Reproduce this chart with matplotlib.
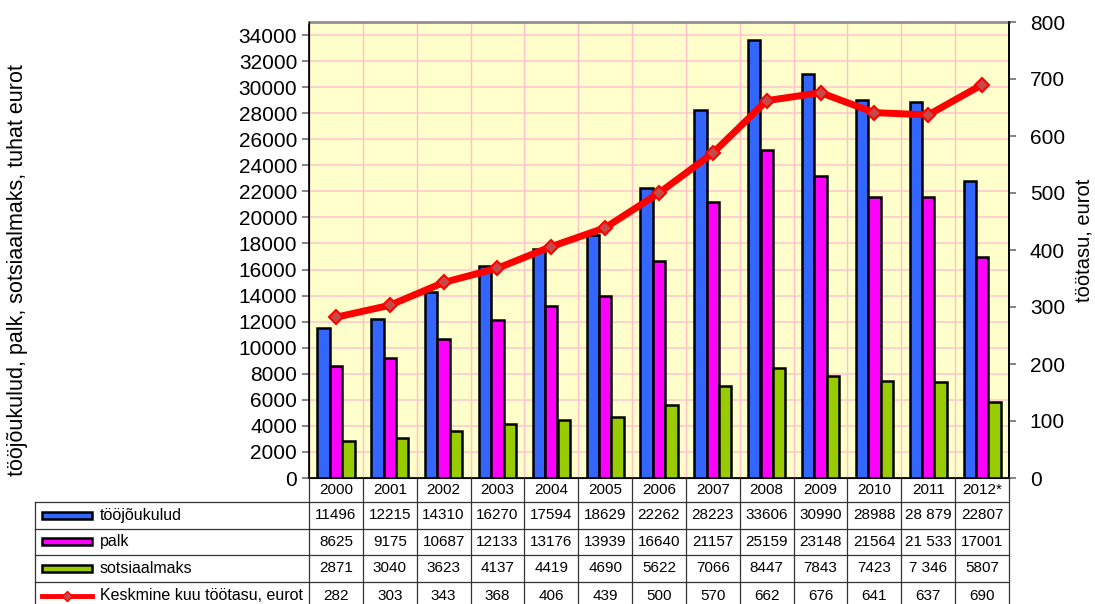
import numpy as np
import matplotlib
matplotlib.use("Agg")
from matplotlib import pyplot as plt
from matplotlib.patches import Rectangle

plt.rcParams['font.family'] = ['Liberation Sans', 'DejaVu Sans']

# data
years = ['2000', '2001', '2002', '2003', '2004', '2005', '2006', '2007',
         '2008', '2009', '2010', '2011', '2012*']
toojoukulud = [11496, 12215, 14310, 16270, 17594, 18629, 22262, 28223,
               33606, 30990, 28988, 28879, 22807]
palk = [8625, 9175, 10687, 12133, 13176, 13939, 16640, 21157,
        25159, 23148, 21564, 21533, 17001]
sotsiaalmaks = [2871, 3040, 3623, 4137, 4419, 4690, 5622, 7066,
                8447, 7843, 7423, 7346, 5807]
tootasu = [282, 303, 343, 368, 406, 439, 500, 570, 662, 676, 641, 637, 690]

# text shown in the table (some cells use a space as thousand separator)
toojoukulud_txt = ['11496', '12215', '14310', '16270', '17594', '18629', '22262',
                   '28223', '33606', '30990', '28988', '28 879', '22807']
palk_txt = ['8625', '9175', '10687', '12133', '13176', '13939', '16640',
            '21157', '25159', '23148', '21564', '21 533', '17001']
sots_txt = ['2871', '3040', '3623', '4137', '4419', '4690', '5622',
            '7066', '8447', '7843', '7423', '7 346', '5807']
tootasu_txt = [str(v) for v in tootasu]

names = ['tööjõukulud', 'palk', 'sotsiaalmaks', 'Keskmine kuu töötasu, eurot']
colors = ['#3366FF', '#FF00FF', '#99CC00']
line_color = '#FF0000'
marker_color = '#C84848'

W, H = 1095, 604
fig = plt.figure(figsize=(W / 100, H / 100), dpi=100)

# plot area in pixels
px_left, px_right, px_top, px_bottom = 309, 1009, 22, 478
ax = fig.add_axes([px_left / W, 1 - px_bottom / H,
                   (px_right - px_left) / W, (px_bottom - px_top) / H])
ax.set_facecolor('#FFFFCC')

n = len(years)
x = np.arange(n)
bw = 0.23
for i, (vals, c) in enumerate(zip([toojoukulud, palk, sotsiaalmaks], colors)):
    ax.bar(x + (i - 1) * bw, vals, bw, color=c, edgecolor='black',
           linewidth=1.8, zorder=3)

ax.set_xlim(-0.5, n - 0.5)
ax.set_ylim(0, 35000)
ax.set_yticks(np.arange(0, 34001, 2000))
ax.set_xticks([])
ax.set_xticks(np.arange(-0.5, n, 1), minor=True)
ax.tick_params(axis='x', which='minor', length=0)
ax.grid(True, axis='y', color='#FFC8D0', linewidth=1.2, zorder=0)
ax.grid(True, axis='x', which='minor', color='#FFC0CB', linewidth=1.0, zorder=0)
ax.tick_params(axis='y', labelsize=15, length=5, width=1.2, direction='out',
               color='#707070')
ax.spines['top'].set_color('#909090')
ax.spines['top'].set_linewidth(2)
for s in ['left', 'right', 'bottom']:
    ax.spines[s].set_linewidth(1.2)

ax2 = ax.twinx()
ax2.set_ylim(0, 800)
ax2.set_yticks(np.arange(0, 801, 100))
ax2.plot(x, tootasu, color=line_color, linewidth=5, marker='D',
         markersize=7.5, markerfacecolor=marker_color, markeredgecolor=line_color,
         markeredgewidth=1.5, zorder=5)
ax2.tick_params(axis='y', labelsize=15, length=5, width=1.2, direction='out',
                pad=10, color='#707070')
ax2.spines['top'].set_visible(False)
ax2.spines['right'].set_linewidth(1.2)

fig.text(18 / W, 1 - 270 / H, 'tööjõukulud, palk, sotsiaalmaks, tuhat eurot',
         rotation=90, ha='center', va='center', fontsize=15.5)
fig.text(1084 / W, 1 - 240 / H, 'töötasu, eurot',
         rotation=90, ha='center', va='center', fontsize=14.5)

# data table under the plot
tb_left = 35
unit = (px_right - px_left) / n
tax = fig.add_axes([tb_left / W, 0, (px_right - tb_left) / W, (H - px_bottom) / H])
x0 = -0.5 - (px_left - tb_left) / unit
tax.set_xlim(x0, n - 0.5)
tax.set_ylim(H - px_bottom, 0)
tax.axis('off')

row_edges = [0, 24, 50.5, 77, 104, 131]
lc = '#333333'
# horizontal lines
for y in row_edges[1:]:
    tax.plot([x0, n - 0.5], [y, y], color=lc, linewidth=0.9, clip_on=False)
# vertical lines
for b in np.arange(-0.5, n, 1):
    tax.plot([b, b], [0, row_edges[-1]], color=lc, linewidth=0.9, clip_on=False)
tax.plot([x0, x0], [row_edges[1], row_edges[-1]], color=lc, linewidth=0.9, clip_on=False)

rows = [toojoukulud_txt, palk_txt, sots_txt, tootasu_txt]
for j, yr in enumerate(years):
    tax.text(j, (row_edges[0] + row_edges[1]) / 2, yr, ha='center', va='center', fontsize=11)
for r, cells in enumerate(rows):
    yc = (row_edges[r + 1] + row_edges[r + 2]) / 2
    for j, t in enumerate(cells):
        tax.text(j, yc, t, ha='center', va='center', fontsize=11)

# legend keys in the label column
key_w = 50 / unit
kx = x0 + 7 / unit
tx = x0 + 65 / unit
for r, name in enumerate(names):
    yc = (row_edges[r + 1] + row_edges[r + 2]) / 2
    if r < 3:
        tax.add_patch(Rectangle((kx, yc - 3.5), key_w, 7, facecolor=colors[r],
                                edgecolor='black', linewidth=1.8, clip_on=False))
    else:
        tax.plot([kx, kx + key_w], [yc, yc], color=line_color, linewidth=3.5,
                 clip_on=False)
        tax.plot([kx + key_w / 2], [yc], marker='D', markersize=5,
                 markerfacecolor=marker_color, markeredgecolor=line_color,
                 clip_on=False)
    tax.text(tx, yc, name, ha='left', va='center', fontsize=11.5)

fig.savefig('out.png', dpi=100)
